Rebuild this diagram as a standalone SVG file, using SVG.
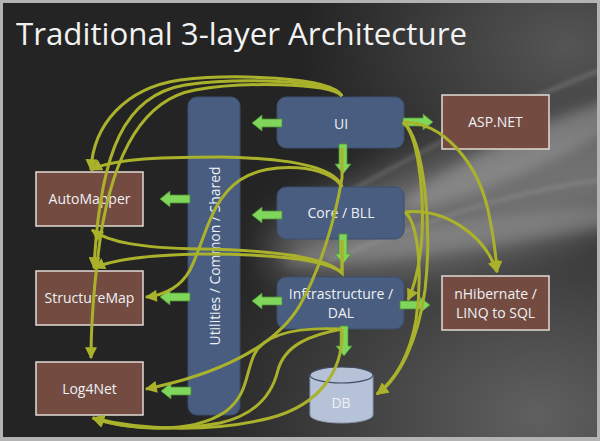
<svg xmlns="http://www.w3.org/2000/svg" xmlns:xlink="http://www.w3.org/1999/xlink" width="600" height="441" viewBox="0 0 600 441">
<style>
.t{font-family:"Open Sans","Liberation Sans",sans-serif;}
.blue{fill:#485d80;stroke:#3c4e6c;stroke-width:1;}
.brown{fill:#744b40;stroke:#e2dad6;stroke-width:1.5;}
.lbl{font-family:"Open Sans","Liberation Sans",sans-serif;font-size:14px;fill:#eef1f6;text-anchor:middle;}
.ga{fill:#7fd65a;stroke:#4e8f3a;stroke-width:0.8;}
.cv{fill:none;stroke:#aab22c;stroke-width:3;marker-end:url(#ah);}
</style>
<defs>
<marker id="ah" viewBox="0 0 10 10" refX="9" refY="5" markerUnits="userSpaceOnUse" markerWidth="13" markerHeight="12" orient="auto"><path d="M0,0 L10,5 L0,10 Z" fill="#aab22c"/></marker>
<path id="ga" d="M0,0 L10,-8 L10,-4 L30,-4 L30,4 L10,4 L10,8 Z"/>
<filter id="b20" x="-50%" y="-50%" width="200%" height="200%"><feGaussianBlur stdDeviation="20"/></filter>
<filter id="b6" x="-50%" y="-50%" width="200%" height="200%"><feGaussianBlur stdDeviation="6"/></filter>
<filter id="b2" x="-50%" y="-50%" width="200%" height="200%"><feGaussianBlur stdDeviation="2"/></filter>
<radialGradient id="br" cx="0.9" cy="0.95" r="0.6"><stop offset="0" stop-color="#606060"/><stop offset="1" stop-color="#606060" stop-opacity="0"/></radialGradient>
<radialGradient id="tr" cx="0.95" cy="0.1" r="0.45"><stop offset="0" stop-color="#555"/><stop offset="1" stop-color="#555" stop-opacity="0"/></radialGradient>
<clipPath id="cp"><rect x="3" y="3" width="594" height="434"/></clipPath>
</defs>
<g id="background">
<rect x="0" y="0" width="600" height="441" fill="#b3b3b3"/>
<g clip-path="url(#cp)">
<rect x="3" y="3" width="594" height="434" fill="#242424"/>
<rect x="3" y="3" width="594" height="434" fill="url(#br)"/>
<rect x="3" y="3" width="594" height="434" fill="url(#tr)"/>
<ellipse cx="490" cy="200" rx="230" ry="55" transform="rotate(-14 490 200)" fill="#909090" opacity="0.65" filter="url(#b20)"/>
<ellipse cx="530" cy="150" rx="140" ry="18" transform="rotate(-24 530 150)" fill="#acacac" opacity="0.4" filter="url(#b6)"/>
<ellipse cx="470" cy="235" rx="190" ry="14" transform="rotate(-8 470 235)" fill="#a4a4a4" opacity="0.35" filter="url(#b6)"/>
<path d="M600,70 C500,110 420,150 300,220" stroke="#c4c4c4" stroke-width="3" fill="none" opacity="0.3" filter="url(#b2)"/>
<path d="M600,180 C520,190 440,215 330,260" stroke="#c4c4c4" stroke-width="3" fill="none" opacity="0.25" filter="url(#b2)"/>
</g>
</g>
<text class="t" x="16" y="45" font-size="31" fill="#f2f2f2" textLength="451" lengthAdjust="spacingAndGlyphs">Traditional 3-layer Architecture</text>
<g id="utilities">
<rect class="blue" x="188" y="97" width="52" height="318" rx="9"/>
<text class="lbl" transform="translate(214 256) rotate(-90)" dominant-baseline="central" textLength="179" lengthAdjust="spacingAndGlyphs">Utilities / Common / Shared</text>
</g>
<g id="ui">
<rect class="blue" x="277" y="97" width="127" height="51" rx="9"/>
<text class="lbl" x="341" y="129">UI</text>
</g>
<g id="core">
<rect class="blue" x="277" y="187" width="127" height="52" rx="9"/>
<text class="lbl" x="341" y="218">Core / BLL</text>
</g>
<g id="infra">
<rect class="blue" x="277" y="277" width="127" height="52" rx="9"/>
<text class="lbl" x="341" y="299">Inftrastructure /</text>
<text class="lbl" x="341" y="318">DAL</text>
</g>
<g id="db">
<path d="M310,375 L310,415 A31.5,8 0 0 0 373,415 L373,375" fill="#b6c2d8" stroke="#8b98b2" stroke-width="1"/>
<ellipse cx="341.5" cy="375" rx="31.5" ry="8" fill="#b6c2d8" stroke="#3f4b63" stroke-width="1.2"/>
<text class="lbl" x="341" y="408" font-size="15">DB</text>
</g>
<g id="aspnet">
<rect class="brown" x="442" y="95" width="107" height="54"/>
<text class="lbl" x="495.5" y="127">ASP.NET</text>
</g>
<g id="nhibernate">
<rect class="brown" x="442" y="276" width="107" height="54"/>
<text class="lbl" x="495.5" y="299">nHibernate /</text>
<text class="lbl" x="495.5" y="318">LINQ to SQL</text>
</g>
<g id="automapper">
<rect class="brown" x="36" y="172" width="107" height="54"/>
<text class="lbl" x="89.5" y="204">AutoMapper</text>
</g>
<g id="structuremap">
<rect class="brown" x="36" y="271" width="107" height="54"/>
<text class="lbl" x="89.5" y="303">StructureMap</text>
</g>
<g id="log4net">
<rect class="brown" x="36" y="362" width="107" height="53"/>
<text class="lbl" x="89.5" y="394">Log4Net</text>
</g>
<g id="connectors">
<use xlink:href="#ga" class="ga" transform="translate(252 123)"/>
<use xlink:href="#ga" class="ga" transform="translate(252 215)"/>
<use xlink:href="#ga" class="ga" transform="translate(252 301)"/>
<use xlink:href="#ga" class="ga" transform="translate(160 199)"/>
<use xlink:href="#ga" class="ga" transform="translate(160 297)"/>
<use xlink:href="#ga" class="ga" transform="translate(161 391)"/>
<use xlink:href="#ga" class="ga" transform="translate(343 174) rotate(-90)"/>
<use xlink:href="#ga" class="ga" transform="translate(343 264) rotate(-90)"/>
<use xlink:href="#ga" class="ga" transform="translate(344 356) rotate(-90)"/>
<use xlink:href="#ga" class="ga" transform="translate(433 122) rotate(180)"/>
<use xlink:href="#ga" class="ga" transform="translate(430 305) rotate(180)"/>
<path class="cv" d="M342,96 C332,76 230,74 180,80 C125,88 93,125 91,170"/>
<path class="cv" d="M342,96 C330,79 235,78 185,85 C125,95 100,150 94,268"/>
<path class="cv" d="M342,96 C328,82 240,82 195,90 C140,100 112,160 100,240 C94,285 91,320 91,358"/>
<path class="cv" d="M342,187 C335,165 280,158 220,157 C150,157 110,160 91,170"/>
<path class="cv" d="M342,187 C330,165 270,160 240,180 C210,200 205,240 190,270 C180,288 165,295 146,297"/>
<path class="cv" d="M342,240 L342,273 C325,255 260,250 200,249 C140,248 108,242 92,230"/>
<path class="cv" d="M342,240 L342,273 C325,258 260,254 200,254 C145,255 112,260 94,268"/>
<path class="cv" d="M342,148 L342,178 C335,220 320,270 300,305 C275,348 215,375 146,389"/>
<path class="cv" d="M342,329 C300,327 265,332 254,355 C245,375 248,395 225,412 C190,435 130,430 93,418"/>
<path class="cv" d="M342,329 C344,370 320,405 270,418 C210,433 140,430 93,418"/>
<path class="cv" d="M342,329 C310,335 285,345 278,370 C272,395 255,415 220,423 C170,432 120,428 93,418"/>
<path class="cv" d="M403,122 C445,122 478,165 488,210 C494,238 496,255 497,272"/>
<path class="cv" d="M405,212 C445,208 485,235 497,272"/>
<path class="cv" d="M403,122 C418,135 424,190 422,235 C420,265 415,285 408,300"/>
<path class="cv" d="M403,122 C425,140 432,230 425,290 C418,340 400,378 377,394"/>
<path class="cv" d="M405,212 C420,225 422,280 416,320 C410,355 395,380 377,394"/>
</g>
</svg>
